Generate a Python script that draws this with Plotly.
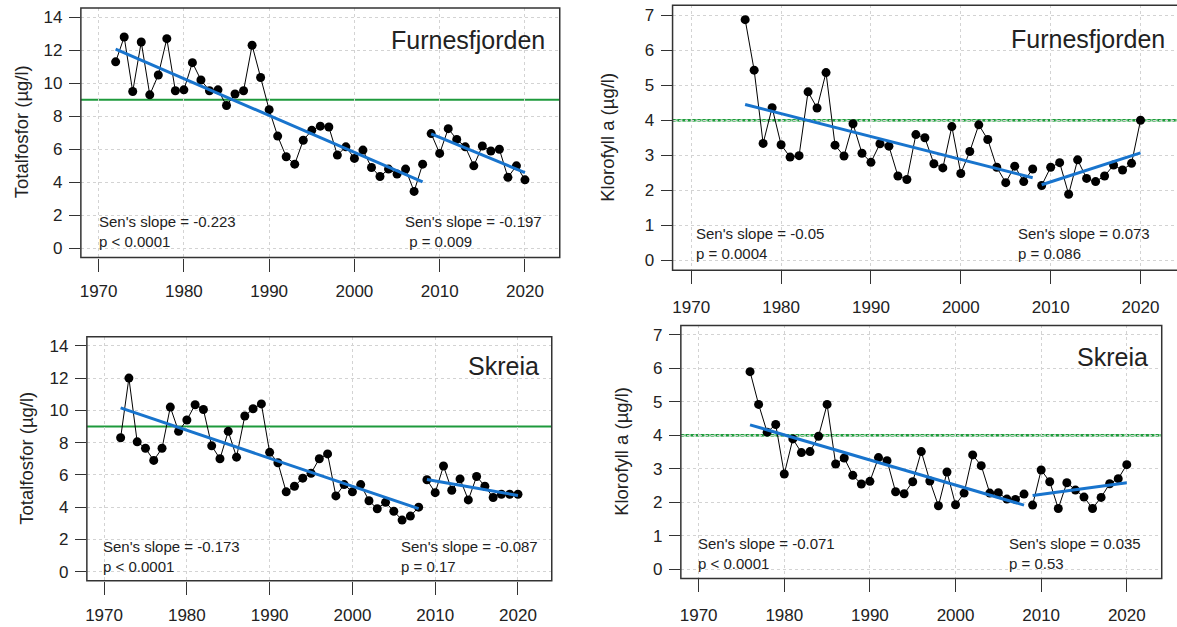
import plotly.graph_objects as go

W, H = 1177, 627

# ---------------- data ----------------
years_tp = list(range(1972, 2021))
tp_furnes = [11.3, 12.8, 9.5, 12.5, 9.3, 10.5, 12.7, 9.55, 9.6, 11.25,
             10.2, 9.55, 9.6, 8.65, 9.35, 9.55, 12.3, 10.35, 8.4, 6.8,
             5.55, 5.1, 6.55, 7.15, 7.4, 7.35, 5.65, 6.15, 5.45, 5.95,
             4.9, 4.35, 4.8, 4.5, 4.8, 3.45, 5.1, 6.95, 5.75, 7.25,
             6.6, 6.15, 5.0, 6.2, 5.9, 6.0, 4.3, 5.0, 4.15]
tp_skreia = [8.3, 12.0, 8.05, 7.65, 6.9, 7.65, 10.2, 8.7, 9.4, 10.35,
             10.05, 7.8, 7.0, 8.7, 7.1, 9.65, 10.1, 10.4, 7.4, 6.75,
             4.95, 5.3, 5.8, 6.1, 7.0, 7.3, 4.7, 5.4, 4.95, 5.4,
             4.4, 3.9, 4.3, 3.75, 3.2, 3.45, 4.0, 5.7, 4.9, 6.55,
             5.05, 5.75, 4.45, 5.9, 5.3, 4.6, 4.8, 4.8, 4.8]

years_chl = list(range(1976, 2021))
chl_furnes = [6.87, 5.43, 3.34, 4.36, 3.30, 2.95, 2.99, 4.81, 4.35, 5.36,
              3.29, 2.98, 3.90, 3.06, 2.80, 3.33, 3.26, 2.41, 2.31, 3.59,
              3.50, 2.76, 2.64, 3.82, 2.48, 3.11, 3.87, 3.45, 2.66, 2.22,
              2.69, 2.25, 2.61, 2.14, 2.66, 2.79, 1.89, 2.87, 2.34, 2.25,
              2.41, 2.72, 2.58, 2.77, 4.00]
chl_skreia = [5.90, 4.92, 4.09, 4.32, 2.84, 3.89, 3.48, 3.51, 3.97, 4.92,
              3.14, 3.32, 2.80, 2.54, 2.62, 3.33, 3.24, 2.31, 2.25, 2.61,
              3.51, 2.63, 1.89, 2.90, 1.92, 2.27, 3.41, 3.09, 2.27, 2.28,
              2.09, 2.08, 2.24, 1.91, 2.96, 2.61, 1.81, 2.58, 2.36, 2.15,
              1.81, 2.14, 2.55, 2.70, 3.12]

split_year = 2008  # last year of first period

# trend lines (Sen's slope) : [start, end] of each period
trend_years_a = {"tp": [1972, 2008], "chl": [1976, 2008]}
trend_years_b = [2009, 2020]
trend_tp_furnes = ([12.07, 4.02], [6.94, 4.59])
trend_tp_skreia = ([10.15, 3.91], [5.72, 4.73])
trend_chl_furnes = ([4.45, 2.36], [2.16, 3.07])
trend_chl_skreia = ([4.31, 1.91], [2.20, 2.58])

sen_tp_furnes = ["Sen's slope = -0.223<br>p < 0.0001", "Sen's slope = -0.197<br> p = 0.009"]
sen_tp_skreia = ["Sen's slope = -0.173<br>p < 0.0001", "Sen's slope = -0.087<br>p = 0.17"]
sen_chl_furnes = ["Sen's slope = -0.05<br>p = 0.0004", "Sen's slope = 0.073<br>p = 0.086"]
sen_chl_skreia = ["Sen's slope = -0.071<br>p < 0.0001", "Sen's slope = 0.035<br>p = 0.53"]

limit_tp = 9
limit_chl = 4

x_ticks = [1970, 1980, 1990, 2000, 2010, 2020]
y_ticks_tp = [0, 2, 4, 6, 8, 10, 12, 14]
y_ticks_chl = [0, 1, 2, 3, 4, 5, 6, 7]

# ---------------- layout helpers ----------------
FONT = "Liberation Sans, Arial, sans-serif"
DARK = "#222222"
BLUE = "#1874CD"
GREEN = "#1E9A3C"
LIGHTGREEN = "#8ED39C"

def px(x):
    return x / W

def py(y):
    return 1 - y / H

panels = [
    dict(sfx="", box=(79, 558.7, 8, 258), xr=[1967.92, 2024.08], yr=[-0.56, 14.56],
         yt=y_ticks_tp, yrs=years_tp, vals=tp_furnes, tr=trend_tp_furnes, ta=trend_years_a["tp"],
         sen=sen_tp_furnes, lim=limit_tp, dot=False, yt_title="Totalfosfor (µg/l)",
         ytx=19.5, name="Furnesfjorden", namepos=(546, 40), senpos=((95, 232), (402, 232)),
         standoff=5),
    dict(sfx="2", box=(671.7, 1177.0, 5.3, 270.7), xr=[1967.92, 2024.06], yr=[-0.28, 7.28],
         yt=y_ticks_chl, yrs=years_chl, vals=chl_furnes, tr=trend_chl_furnes, ta=trend_years_a["chl"],
         sen=sen_chl_furnes, lim=limit_chl, dot=True, yt_title="Klorofyll a (µg/l)",
         ytx=607, name="Furnesfjorden", namepos=(1167, 39), senpos=((693, 244), (1016, 244)),
         standoff=8),
    dict(sfx="3", box=(85, 550.7, 337.3, 581.7), xr=[1967.92, 2024.08], yr=[-0.56, 14.56],
         yt=y_ticks_tp, yrs=years_tp, vals=tp_skreia, tr=trend_tp_skreia, ta=trend_years_a["tp"],
         sen=sen_tp_skreia, lim=limit_tp, dot=False, yt_title="Totalfosfor (µg/l)",
         ytx=25, name="Skreia", namepos=(540, 367), senpos=((99, 557), (398, 557)),
         standoff=6),
    dict(sfx="4", box=(680, 1161.7, 326, 579.3), xr=[1967.92, 2024.08], yr=[-0.28, 7.28],
         yt=y_ticks_chl, yrs=years_chl, vals=chl_skreia, tr=trend_chl_skreia, ta=trend_years_a["chl"],
         sen=sen_chl_skreia, lim=limit_chl, dot=True, yt_title="Klorofyll a (µg/l)",
         ytx=621, name="Skreia", namepos=(1150, 358), senpos=((695, 554), (1007, 554)),
         standoff=8),
]

fig = go.Figure()
layout = dict(width=W, height=H, margin=dict(l=0, r=0, t=0, b=0),
              paper_bgcolor="white", plot_bgcolor="white", showlegend=False,
              font=dict(family=FONT, size=17, color=DARK))
shapes = []
annotations = []

for p in panels:
    sfx = p["sfx"]
    xa, ya = "x" + sfx, "y" + sfx
    l, r, t, b = p["box"]
    layout["xaxis" + sfx] = dict(
        domain=[px(l), min(px(r), 1.0)], range=p["xr"], anchor=ya,
        tickvals=x_ticks, ticks="outside", ticklen=13, tickwidth=1.3, tickcolor="#333333",
        showline=False, zeroline=False, showgrid=True, gridcolor="#D3D3D3", griddash="dot",
        gridwidth=1, tickfont=dict(size=17, color=DARK, family=FONT),
        ticklabelstandoff=p["standoff"])
    layout["yaxis" + sfx] = dict(
        domain=[py(b), py(t)], range=p["yr"], anchor=xa,
        tickvals=p["yt"], ticks="outside", ticklen=11, tickwidth=1.3, tickcolor="#333333",
        showline=False, zeroline=False, showgrid=True, gridcolor="#D3D3D3", griddash="dot",
        gridwidth=1, tickfont=dict(size=17, color=DARK, family=FONT), ticklabelstandoff=3)

    # observations, split into two periods
    y1 = [y for y in p["yrs"] if y <= split_year]
    v1 = [v for y, v in zip(p["yrs"], p["vals"]) if y <= split_year]
    y2 = [y for y in p["yrs"] if y > split_year]
    v2 = [v for y, v in zip(p["yrs"], p["vals"]) if y > split_year]
    for yy, vv in ((y1, v1), (y2, v2)):
        fig.add_trace(go.Scatter(x=yy, y=vv, mode="lines+markers", xaxis=xa, yaxis=ya,
                                 line=dict(color="black", width=1),
                                 marker=dict(color="black", size=9), hoverinfo="x+y"))
    # trend lines
    for ty, tv in ((p["ta"], p["tr"][0]), (trend_years_b, p["tr"][1])):
        fig.add_trace(go.Scatter(x=ty, y=tv, mode="lines", xaxis=xa, yaxis=ya,
                                 line=dict(color=BLUE, width=3), hoverinfo="skip"))

    # limit line
    if p["dot"]:
        shapes.append(dict(type="line", xref=xa + " domain", yref=ya, x0=0, x1=1,
                           y0=p["lim"], y1=p["lim"], layer="below",
                           line=dict(color=LIGHTGREEN, width=2.5)))
        shapes.append(dict(type="line", xref=xa + " domain", yref=ya, x0=0, x1=1,
                           y0=p["lim"], y1=p["lim"], layer="below",
                           line=dict(color=GREEN, width=2.5, dash="3px,2px")))
    else:
        shapes.append(dict(type="line", xref=xa + " domain", yref=ya, x0=0, x1=1,
                           y0=p["lim"], y1=p["lim"], layer="below",
                           line=dict(color=GREEN, width=2.2)))
    # box
    shapes.append(dict(type="rect", xref=xa + " domain", yref=ya + " domain",
                       x0=0, x1=1.003 if r >= W else 1, y0=0, y1=1, layer="above",
                       line=dict(color="#333333", width=1.5)))

    # y title
    annotations.append(dict(text=p["yt_title"], xref="paper", yref="paper",
                            x=px(p["ytx"]), y=py((t + b) / 2 - 1), textangle=-90,
                            showarrow=False, xanchor="center", yanchor="middle",
                            font=dict(size=18.5, color=DARK, family=FONT)))
    # station
    annotations.append(dict(text=p["name"], xref="paper", yref="paper",
                            x=px(p["namepos"][0]), y=py(p["namepos"][1]),
                            showarrow=False, xanchor="right", yanchor="middle",
                            font=dict(size=25, color=DARK, family=FONT)))
    # Sen's slope texts
    for txt, (sx, sy) in zip(p["sen"], p["senpos"]):
        annotations.append(dict(text=txt, xref="paper", yref="paper",
                                x=px(sx), y=py(sy), showarrow=False,
                                xanchor="left", yanchor="middle", align="left",
                                font=dict(size=15, color=DARK, family=FONT)))

layout["shapes"] = shapes
layout["annotations"] = annotations
fig.update_layout(**layout)
fig.write_html("out.html")
